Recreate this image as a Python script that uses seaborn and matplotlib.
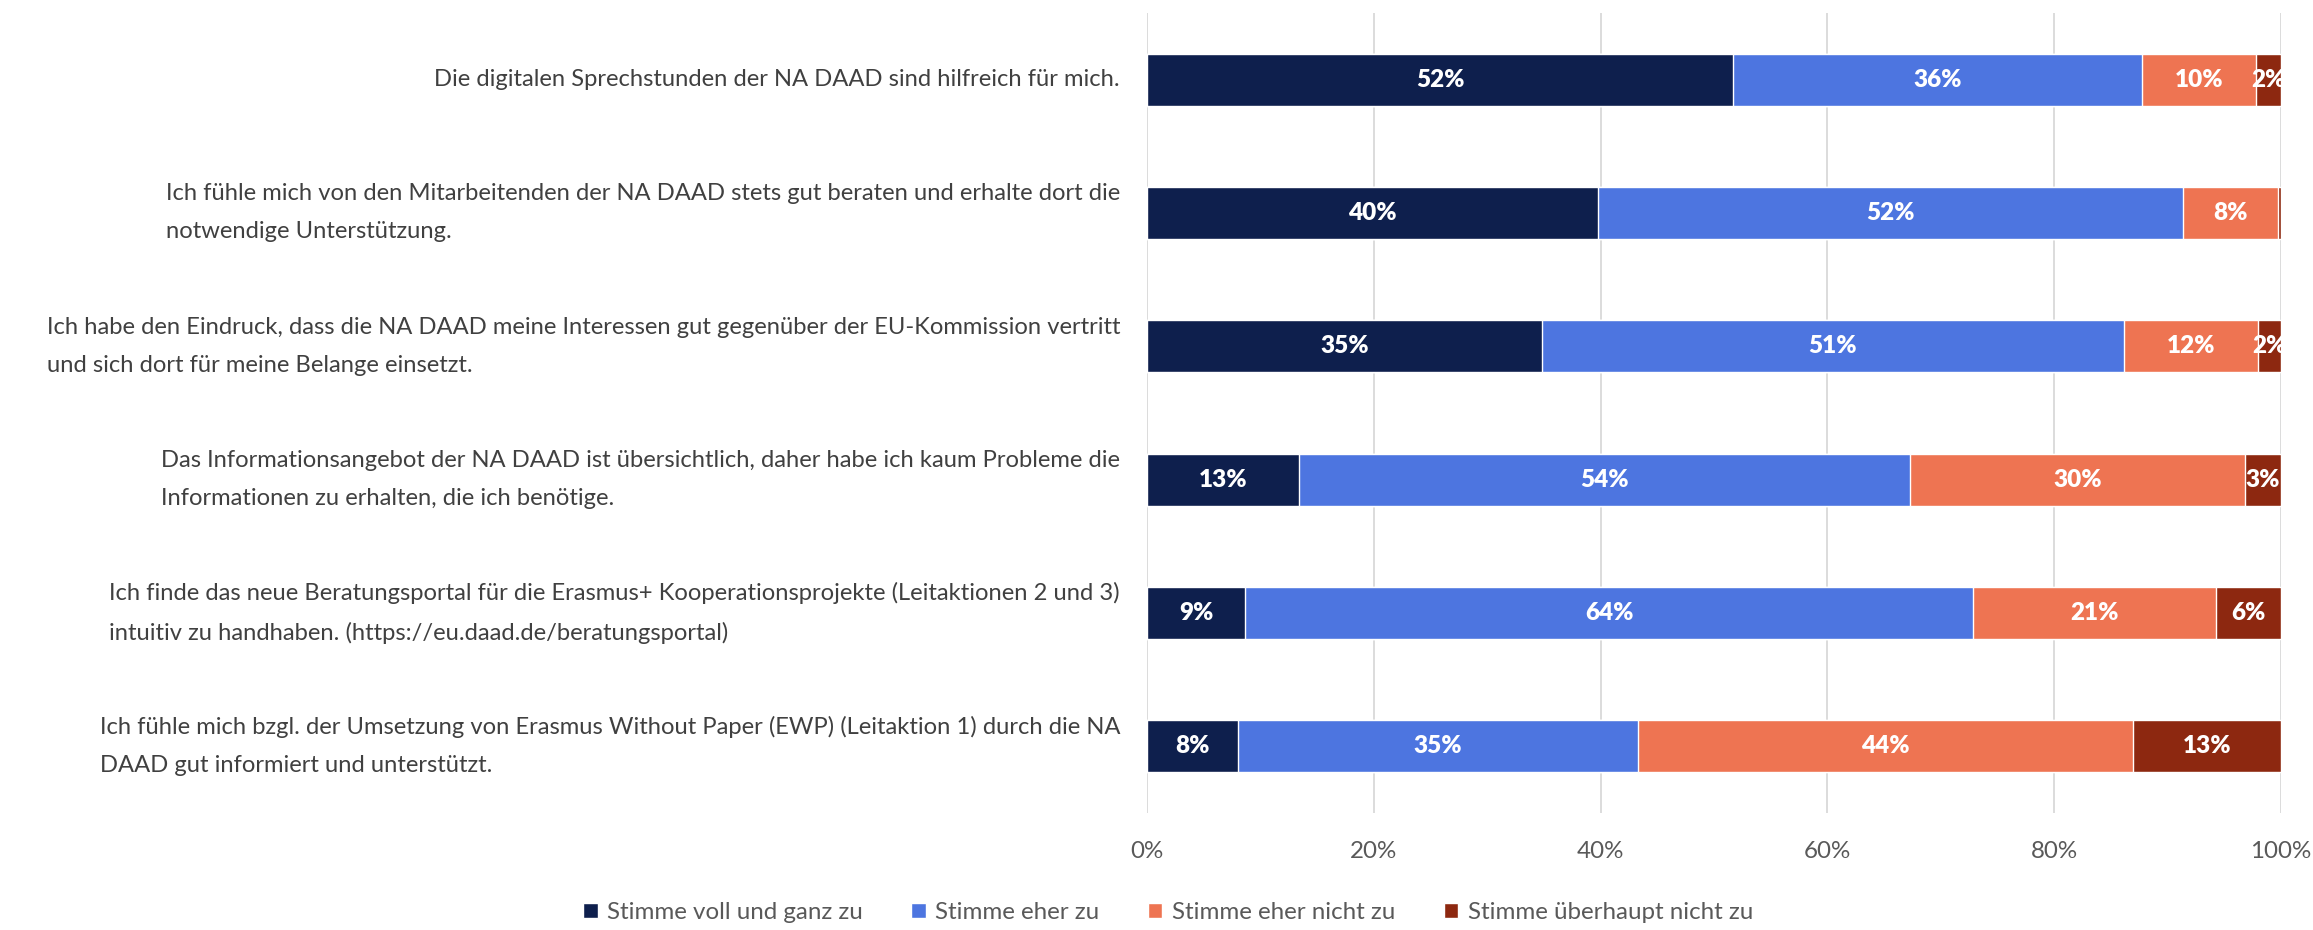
import matplotlib
matplotlib.use("Agg")
import matplotlib.pyplot as plt
import seaborn as sns
import numpy as np
import pandas as pd

statements = [
    "Die digitalen Sprechstunden der NA DAAD sind hilfreich für mich.",
    "Ich fühle mich von den Mitarbeitenden der NA DAAD stets gut beraten und erhalte dort die\nnotwendige Unterstützung.",
    "Ich habe den Eindruck, dass die NA DAAD meine Interessen gut gegenüber der EU-Kommission vertritt\nund sich dort für meine Belange einsetzt.",
    "Das Informationsangebot der NA DAAD ist übersichtlich, daher habe ich kaum Probleme die\nInformationen zu erhalten, die ich benötige.",
    "Ich finde das neue Beratungsportal für die Erasmus+ Kooperationsprojekte (Leitaktionen 2 und 3)\nintuitiv zu handhaben. (https://eu.daad.de/beratungsportal)",
    "Ich fühle mich bzgl. der Umsetzung von Erasmus Without Paper (EWP) (Leitaktion 1) durch die NA\nDAAD gut informiert und unterstützt.",
]
series_names = ["Stimme voll und ganz zu", "Stimme eher zu", "Stimme eher nicht zu", "Stimme überhaupt nicht zu"]
voll = [51.7, 39.8, 34.8, 13.4, 8.6, 8.0]
eher = [36.1, 51.6, 51.4, 53.9, 64.3, 35.3]
eher_nicht = [10.0, 8.4, 11.8, 29.6, 21.4, 43.7]
ueberhaupt = [2.2, 0.2, 2.0, 3.1, 5.7, 13.0]
colors = ["#0E1F4D", "#4D75E0", "#EE7452", "#8D2810"]
tick_labels = ["0%", "20%", "40%", "60%", "80%", "100%"]

sns.set_theme(style="white")
plt.rcParams['font.family'] = ['Lato', 'DejaVu Sans']

vals = np.array([voll, eher, eher_nicht, ueberhaupt])
cums = np.cumsum(vals, axis=0)

fig = plt.figure(figsize=(23.13, 9.3), dpi=100)
ax = fig.add_axes([0.496, 0.126, 0.490, 0.860])

for i in range(3, -1, -1):
    df = pd.DataFrame({"stmt": statements, "val": cums[i]})
    sns.barplot(data=df, x="val", y="stmt", orient="h", color=colors[i],
                width=0.39, ax=ax, saturation=1, label=series_names[i], zorder=3)
if ax.get_legend() is not None:
    ax.get_legend().remove()

for i in range(4):
    for j in range(len(statements)):
        v = vals[i, j]
        if v < 1:
            continue
        ax.text(cums[i, j] - v / 2, j, f"{round(v):.0f}%", ha="center", va="center",
                color="white", fontsize=17.5, fontweight="heavy", zorder=5)

ax.set_xlim(0, 100)
ax.set_xticks(np.arange(0, 101, 20))
ax.set_xticklabels(tick_labels)
ax.set_xlabel("")
ax.set_ylabel("")
ax.grid(axis="x", color="#D9D9D9", linewidth=1.3, zorder=0)
ax.set_axisbelow(True)
for s in ax.spines.values():
    s.set_visible(False)
ax.tick_params(axis="x", colors="#595959", labelsize=17.4, pad=20, length=0)
ax.tick_params(axis="y", length=0, labelleft=False)

for j, s in enumerate(statements):
    ax.text(-0.024, j, s, transform=ax.get_yaxis_transform(), ha="right", va="center",
            multialignment="left", linespacing=2.0, fontsize=17.1, color="#404040")

handles, labels = ax.get_legend_handles_labels()
order = [labels.index(n) for n in series_names]
fig.legend([handles[k] for k in order], series_names, loc="lower center",
           bbox_to_anchor=(0.505, -0.016), ncol=4, frameon=False, fontsize=17.4,
           handlelength=0.6, handleheight=0.6, columnspacing=2.0, handletextpad=0.4,
           labelcolor="#595959")

fig.savefig("out.png", dpi=100)
